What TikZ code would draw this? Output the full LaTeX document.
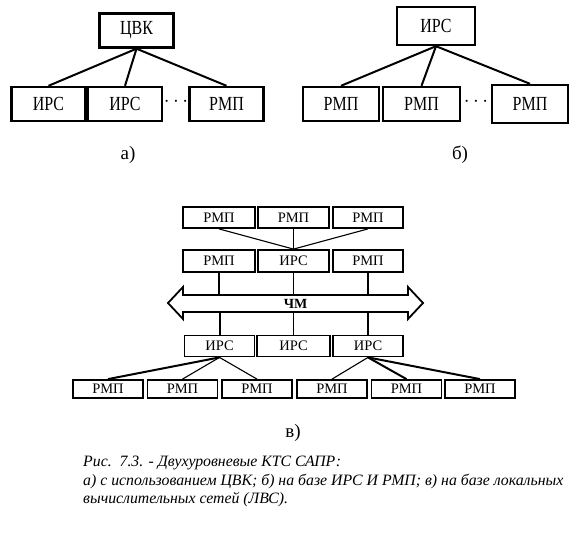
\documentclass[tikz,border=0pt]{standalone}
\usepackage{fontspec}
\setmainfont{Liberation Serif}
\newfontfamily\narrowfont[FakeStretch=0.8]{Liberation Serif}
\usetikzlibrary{positioning}

\begin{document}
\begin{tikzpicture}[
  x=1pt, y=-1pt,
  big/.style={draw, line width=2.4pt, minimum width=74pt, minimum height=34pt, inner sep=0pt, font=\narrowfont\fontsize{20}{22}\selectfont},
  small/.style={draw, line width=1.8pt, minimum width=70pt, minimum height=21pt, inner sep=0pt, font=\fontsize{14.5}{15}\selectfont},
  link/.style={line width=2pt},
  thinlink/.style={line width=1.1pt},
  lbl/.style={font=\fontsize{19}{20}\selectfont}
]
\useasboundingbox (0,0) rectangle (588,532);
% a) ЦВК with terminals
\node[big] (cvk) at (136.5,30.5) {ЦВК};
\node[big] (a1) at (48.5,104) {ИРС};
\node[big] (a2) at (125,104) {ИРС};
\node[font=\fontsize{20}{20}\selectfont] (dotsA) at (176,102) {$\cdots$};
\node[big] (a3) at (226.5,104) {РМП};
\draw[link] (cvk.south) -- (a1.north);
\draw[link] (cvk.south) -- (a2.north);
\draw[link] (cvk.south) -- (a3.north);
\node[lbl] (labA) at (128,155) {а)};
% b) ИРС with workstations
\node[big, minimum width=78pt, minimum height=38pt] (irsB) at (436,26) {ИРС};
\node[big, minimum width=76pt] (b1) at (341,104) {РМП};
\node[big, minimum width=77pt] (b2) at (421.5,104) {РМП};
\node[font=\fontsize{20}{20}\selectfont] (dotsB) at (476,102) {$\cdots$};
\node[big, minimum width=76pt, minimum height=38pt] (b3) at (530,104) {РМП};
\draw[link] (irsB.south) -- (b1.north);
\draw[link] (irsB.south) -- (b2.north);
\draw[link] (irsB.south) -- (b3.north);
\node[lbl] (labB) at (460,155) {б)};
% c) local network
\node[small, minimum width=72pt] (t1) at (219,217.5) {РМП};
\node[small, minimum width=71pt] (t2) at (293.5,217.5) {РМП};
\node[small] (t3) at (368,217.5) {РМП};
\node[small, minimum width=72pt, minimum height=22pt] (m1) at (219,261) {РМП};
\node[small, minimum width=71pt, minimum height=22pt] (m2) at (293.5,261) {ИРС};
\node[small, minimum height=22pt] (m3) at (368,261) {РМП};
\draw[thinlink] (t1.south) -- (m2.north);
\draw[thinlink] (t2.south) -- (m2.north);
\draw[thinlink] (t3.south) -- (m2.north);
% bus
\draw[line width=1.8pt] (168,303) -- (183,287) -- (183,295) -- (408,295) -- (408,287)
  -- (423,303) -- (408,319) -- (408,312) -- (183,312) -- (183,319) -- cycle;
\node[font=\bfseries\fontsize{14}{14}\selectfont] (chm) at (295.5,303.5) {ЧМ};
\coordinate (busT) at (295,295);
\coordinate (busB) at (295,312);
\draw[link] (m1.south) -- (m1.south |- busT);
\draw[thinlink] (m2.south) -- (m2.south |- busT);
\draw[link] (m3.south) -- (m3.south |- busT);
\node[small] (i1) at (219.5,346) {ИРС};
\node[small, minimum width=73pt] (i2) at (293.5,346) {ИРС};
\node[small] (i3) at (368,346) {ИРС};
\draw[link] (i1.north) -- (i1.north |- busB);
\draw[thinlink] (i2.north) -- (i2.north |- busB);
\draw[link] (i3.north) -- (i3.north |- busB);
\node[small, minimum height=18pt] (p1) at (108,389) {РМП};
\node[small, minimum height=18pt] (p2) at (182.5,389) {РМП};
\node[small, minimum height=18pt] (p3) at (257,389) {РМП};
\node[small, minimum height=18pt] (p4) at (332,389) {РМП};
\node[small, minimum height=18pt] (p5) at (406.5,389) {РМП};
\node[small, minimum height=18pt] (p6) at (480,389) {РМП};
\draw[link] (i1.south) -- (p1.north);
\draw[thinlink] (i1.south) -- (p2.north);
\draw[thinlink] (i1.south) -- (p3.north);
\draw[thinlink] (i3.south) -- (p4.north);
\draw[link] (i3.south) -- (p5.north);
\draw[link] (i3.south) -- (p6.north);
\node[lbl] (labC) at (293,433) {в)};
% caption
\node[anchor=north west, align=left, inner sep=0pt, font=\itshape\fontsize{15.8}{18.5}\selectfont] (caption) at (83,456)
  {Рис.~~7.3. - Двухуровневые КТС САПР:\\а) с использованием ЦВК; б) на базе ИРС И РМП; в) на базе локальных\\вычислительных сетей (ЛВС).};
\end{tikzpicture}
\end{document}
